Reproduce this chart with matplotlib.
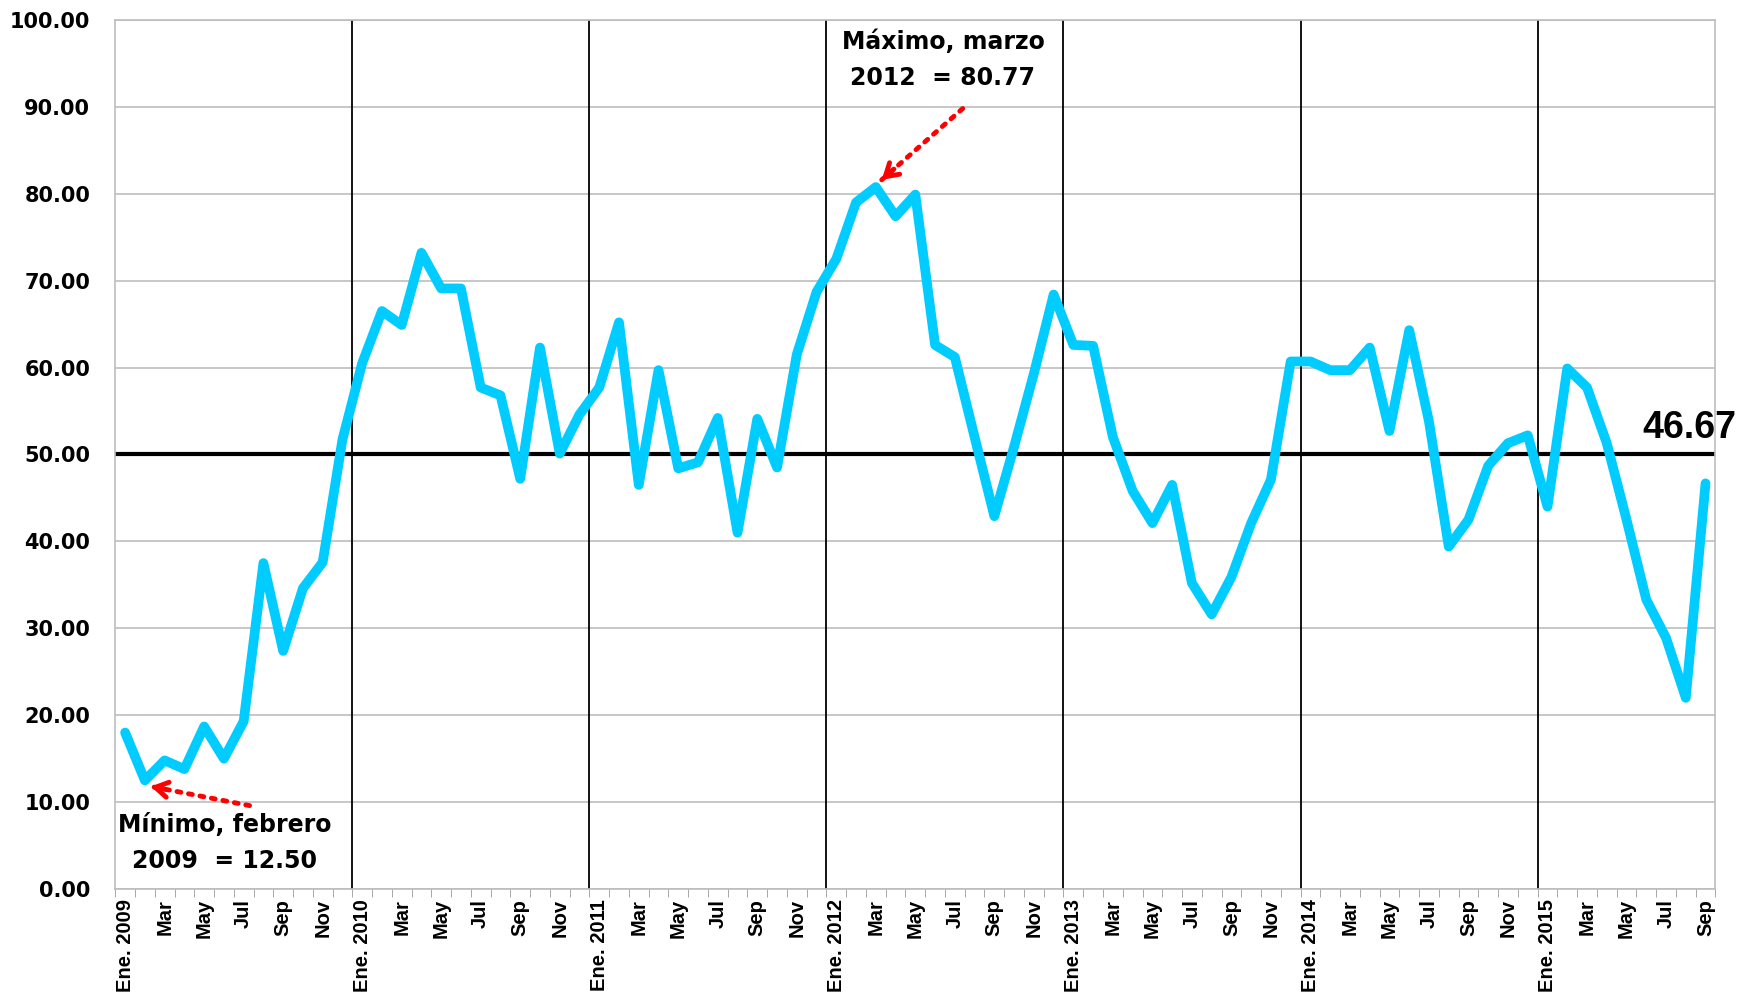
import matplotlib
matplotlib.use("Agg")
from matplotlib import pyplot as plt
import numpy as np

# monthly index, Ene. 2009 - Sep 2015
values = [18.0, 12.50, 14.8, 13.8, 18.7, 15.0, 19.3, 37.5, 27.4, 34.6, 37.6, 51.7,
          60.5, 66.5, 64.9, 73.2, 69.1, 69.1, 57.7, 56.8, 47.2, 62.3, 50.1, 54.6,
          57.7, 65.2, 46.5, 59.7, 48.4, 49.1, 54.2, 41.0, 54.1, 48.5, 61.5, 68.7,
          72.5, 79.0, 80.77, 77.4, 79.9, 62.6, 61.2, 52.0, 42.9, 50.9, 59.3, 68.4,
          62.6, 62.5, 52.0, 45.8, 42.1, 46.5, 35.2, 31.6, 35.9, 42.1, 47.1, 60.7,
          60.7, 59.7, 59.7, 62.3, 52.7, 64.3, 53.8, 39.4, 42.5, 48.7, 51.3, 52.2,
          44.0, 59.9, 57.7, 51.3, 42.5, 33.3, 28.9, 22.0, 46.67]
years = [2009, 2010, 2011, 2012, 2013, 2014, 2015]
month_names = ['Ene.', 'Feb', 'Mar', 'Abr', 'May', 'Jun', 'Jul', 'Ago', 'Sep', 'Oct', 'Nov', 'Dic']
threshold = 50.0
last_value = 46.67

x = np.arange(len(values))
labels = []
for i in range(len(values)):
    m = i % 12
    y = years[i // 12]
    labels.append('Ene. %d' % y if m == 0 else month_names[m])

fig = plt.figure(figsize=(17.54, 9.94), dpi=100)
ax = fig.add_axes([0.0657, 0.1056, 0.9123, 0.8744])

ax.set_xlim(-0.5, len(values) - 0.5)
ax.set_ylim(0, 100)

# gridlines
ax.set_yticks(np.arange(0, 101, 10))
ax.yaxis.grid(True, color='#bdbdbd', lw=1.2)
ax.set_axisbelow(True)

# year separators
for k in range(1, len(years)):
    ax.axvline(12 * k - 0.5, color='k', lw=1.3, zorder=1)

ax.axhline(threshold, color='k', lw=3, zorder=2)
ax.plot(x, values, color='#00CCFF', lw=7, solid_joinstyle='round', solid_capstyle='round', zorder=3)

# ticks
ax.set_xticks(x[::2])
ax.set_xticklabels(labels[::2], rotation=90, fontsize=14.5, fontweight='bold',
                   family=['Liberation Sans Narrow', 'Liberation Sans'])
ax.set_xticks(np.arange(-0.5, len(values), 1), minor=True)
ax.tick_params(axis='x', which='major', length=0, pad=7)
ax.tick_params(axis='x', which='minor', length=6, color='#999999', direction='out')
ax.set_yticklabels(['%.2f' % v for v in np.arange(0, 101, 10)], fontsize=15, fontweight='bold',
                   family='DejaVu Sans')
ax.tick_params(axis='y', length=0, pad=18)

for s in ax.spines.values():
    s.set_color('#bdbdbd')
    s.set_linewidth(1.2)


def dotted_arrow(start, end):
    # dotted shaft plus a solid open head
    ax.plot([start[0], end[0]], [start[1], end[1]], color='red', lw=3.5,
            linestyle=(0, (0.8, 1.6)), dash_capstyle='round', zorder=5)
    dx, dy = end[0] - start[0], end[1] - start[1]
    ax.annotate('', xy=end, xytext=(end[0] - 0.15 * dx, end[1] - 0.15 * dy),
                arrowprops=dict(arrowstyle='->,head_length=0.9,head_width=0.55', color='red',
                                lw=3.5, shrinkA=0, shrinkB=0), zorder=5)


# annotations
dotted_arrow((42.4, 89.8), (38.3, 81.6))
ax.text(41.4, 95.4, 'Máximo, marzo\n2012  = 80.77', ha='center', va='center', fontsize=17,
        fontweight='bold', family='DejaVu Sans', linespacing=1.6, zorder=5)

dotted_arrow((6.3, 9.6), (1.3, 11.8))
ax.text(5.05, 5.3, 'Mínimo, febrero\n2009  = 12.50', ha='center', va='center', fontsize=17,
        fontweight='bold', family='DejaVu Sans', linespacing=1.6, zorder=5)

ax.text(79.2, 51.0, '%.2f' % last_value, ha='center', va='bottom', fontsize=27,
        fontweight='bold', family='Liberation Sans', zorder=5)

fig.savefig('out.png', dpi=100)
